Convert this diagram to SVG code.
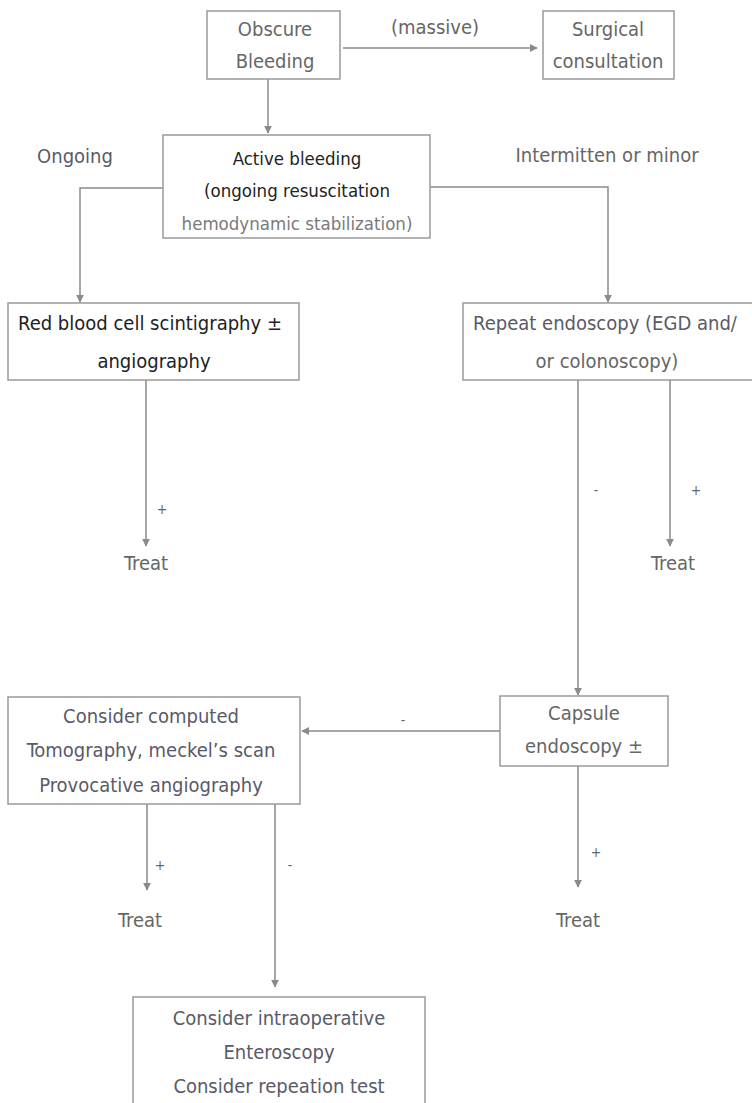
<svg xmlns="http://www.w3.org/2000/svg" width="752" height="1103" viewBox="0 0 752 1103">
<style>
.box{fill:#fff;stroke:#9a9a9a;stroke-width:1.5}
.t{font-family:"DejaVu Sans Condensed","DejaVu Sans",sans-serif;font-stretch:condensed;font-size:20px;fill:#666;text-anchor:middle}
.d{fill:#222}
.a{font-size:18.5px}
.g{fill:#5a5a68}
.l{fill:#7a7a7a}
.s{font-size:14px}
.c{fill:none;stroke:#8a8a8a;stroke-width:1.5}
</style>
<defs>
<marker id="a" viewBox="0 0 10 10" refX="9" refY="5" markerWidth="8" markerHeight="8" markerUnits="userSpaceOnUse" orient="auto">
<path d="M0,0 L10,5 L0,10 z" fill="#8a8a8a"/>
</marker>
</defs>
<rect width="752" height="1103" fill="#fff"/>
<g id="connectors">
<path class="c" d="M343,48 H537" marker-end="url(#a)"/>
<path class="c" d="M268,79 V133" marker-end="url(#a)"/>
<path class="c" d="M163,188 H80 V302" marker-end="url(#a)"/>
<path class="c" d="M430,187 H608 V302" marker-end="url(#a)"/>
<path class="c" d="M146,380 V546" marker-end="url(#a)"/>
<path class="c" d="M670,380 V546" marker-end="url(#a)"/>
<path class="c" d="M578,380 V695" marker-end="url(#a)"/>
<path class="c" d="M500,731 H302" marker-end="url(#a)"/>
<path class="c" d="M147,804 V890" marker-end="url(#a)"/>
<path class="c" d="M275,804 V987" marker-end="url(#a)"/>
<path class="c" d="M578,766 V887" marker-end="url(#a)"/>
<text class="t" x="435" y="34">(massive)</text>
<text class="t g" x="75" y="163">Ongoing</text>
<text class="t" x="607" y="162">Intermitten or minor</text>
<text class="t s" x="162" y="514">+</text>
<text class="t s" x="596" y="495">-</text>
<text class="t s" x="696" y="495">+</text>
<text class="t s" x="403" y="725">-</text>
<text class="t s" x="160" y="870">+</text>
<text class="t s" x="290" y="870">-</text>
<text class="t s" x="596" y="857">+</text>
</g>
<g id="obscure">
<rect class="box" x="207" y="11" width="133" height="68"/>
<text class="t" x="275" y="36">Obscure</text>
<text class="t" x="275" y="68">Bleeding</text>
</g>
<g id="surgical">
<rect class="box" x="543" y="11" width="131" height="68"/>
<text class="t" x="608" y="36">Surgical</text>
<text class="t" x="608" y="68">consultation</text>
</g>
<g id="active">
<rect class="box" x="163" y="135" width="267" height="103"/>
<text class="t a d" x="297" y="165">Active bleeding</text>
<text class="t a d" x="297" y="197">(ongoing resuscitation</text>
<text class="t a l" x="297" y="230">hemodynamic stabilization)</text>
</g>
<g id="rbc">
<rect class="box" x="8" y="303" width="291" height="77"/>
<text class="t d" x="150" y="330">Red blood cell scintigraphy ±</text>
<text class="t d" x="154" y="368">angiography</text>
</g>
<g id="repeat">
<rect class="box" x="463" y="303" width="295" height="77"/>
<text class="t g" x="605" y="330">Repeat endoscopy (EGD and/</text>
<text class="t" x="607" y="368">or colonoscopy)</text>
</g>
<g id="treat1"><text class="t" x="146" y="570">Treat</text></g>
<g id="treat2"><text class="t" x="673" y="570">Treat</text></g>
<g id="capsule">
<rect class="box" x="500" y="696" width="168" height="70"/>
<text class="t" x="584" y="720">Capsule</text>
<text class="t" x="584" y="753">endoscopy ±</text>
</g>
<g id="consider">
<rect class="box" x="8" y="697" width="292" height="107"/>
<text class="t g" x="151" y="723">Consider computed</text>
<text class="t g" x="151" y="757">Tomography, meckel’s scan</text>
<text class="t g" x="151" y="792">Provocative angiography</text>
</g>
<g id="treat3"><text class="t" x="140" y="927">Treat</text></g>
<g id="treat4"><text class="t" x="578" y="927">Treat</text></g>
<g id="intraop">
<rect class="box" x="133" y="997" width="292" height="110"/>
<text class="t g" x="279" y="1025">Consider intraoperative</text>
<text class="t g" x="279" y="1059">Enteroscopy</text>
<text class="t g" x="279" y="1093">Consider repeation test</text>
</g>
</svg>
